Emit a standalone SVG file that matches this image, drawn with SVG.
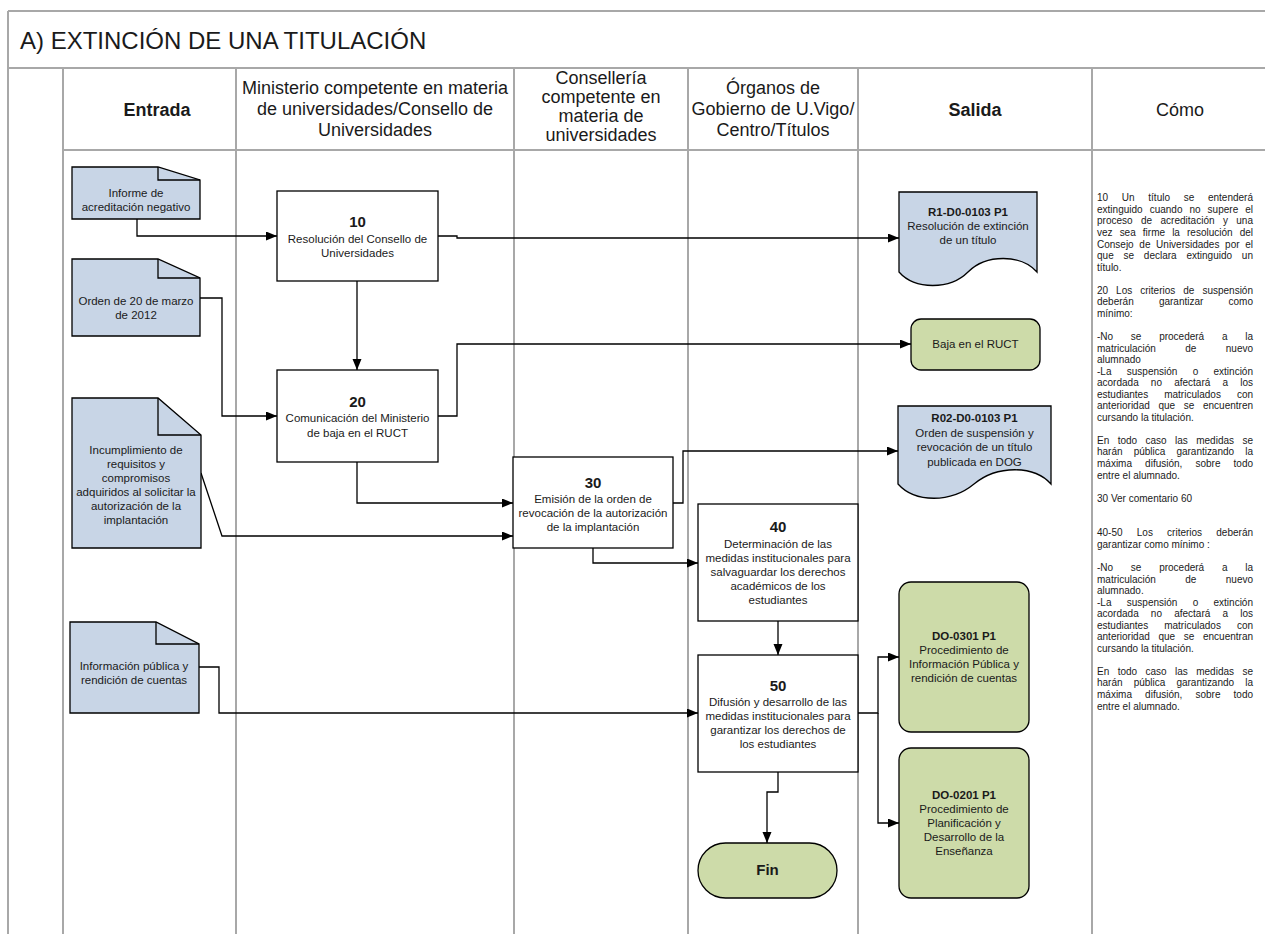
<svg xmlns="http://www.w3.org/2000/svg" width="1265" height="934" viewBox="0 0 1265 934">
<defs>
<style>
.lane{stroke:#a8a8a8;stroke-width:2;fill:none}
.box{fill:#fff;stroke:#000;stroke-width:1.3}
.doc{fill:#c8d5e6;stroke:#000;stroke-width:1.3}
.fold{fill:none;stroke:#000;stroke-width:1.3}
.grn{fill:#cddba9;stroke:#000;stroke-width:1.3}
text{font-family:"Liberation Sans",Arial,sans-serif;fill:#1a1a1a}
.t{font-size:11.5px;text-anchor:middle}
.b{font-weight:bold}
.num{font-size:15px;font-weight:bold;text-anchor:middle}
.hdr{font-size:18px;text-anchor:middle}
.como{font-size:10px}
.conn path{stroke:#000;stroke-width:1.3;fill:none}
.conn .a{marker-end:url(#ah)}
</style>
<marker id="ah" markerUnits="userSpaceOnUse" markerWidth="12" markerHeight="10" refX="11" refY="4.5" orient="auto">
<path d="M0,0 L11,4.5 L0,9 z" fill="#000"/>
</marker>
</defs>
<rect x="0" y="0" width="1265" height="934" fill="#fff"/>

<g id="lanes">
<path class="lane" d="M8,11 H1265 M8,68 H1265 M63,150 H1265 M8,11 V934 M63,68 V934 M236,68 V934 M514,68 V934 M688,68 V934 M858,68 V934 M1092,68 V934"/>
</g>

<g id="title">
<text x="20" y="49" style="font-size:24px">A) EXTINCIÓN DE UNA TITULACIÓN</text>
</g>

<g id="header">
<text class="hdr b" x="157" y="116">Entrada</text>
<text class="hdr" x="375" y="94">Ministerio competente en materia</text>
<text class="hdr" x="375" y="115">de universidades/Consello de</text>
<text class="hdr" x="375" y="136">Universidades</text>
<text class="hdr" x="601" y="84">Consellería</text>
<text class="hdr" x="601" y="103">competente en</text>
<text class="hdr" x="601" y="122">materia de</text>
<text class="hdr" x="601" y="141">universidades</text>
<text class="hdr" x="773" y="94">Órganos de</text>
<text class="hdr" x="773" y="115">Gobierno de U.Vigo/</text>
<text class="hdr" x="773" y="136">Centro/Títulos</text>
<text class="hdr b" x="975" y="116">Salida</text>
<text class="hdr" x="1180" y="116">Cómo</text>
</g>

<g class="conn" id="connectors">
<path class="a" d="M137,219 V236 H277"/>
<path class="a" d="M438,236 H457 V238 H899"/>
<path class="a" d="M357,281 V370"/>
<path class="a" d="M200,298 H222 V416 H277"/>
<path class="a" d="M438,416 H457 V344 H911"/>
<path class="a" d="M357,462 V503 H513"/>
<path class="a" d="M201,473 L222,536 H513"/>
<path class="a" d="M673,503 H683 V451 H898"/>
<path class="a" d="M593,548 V563 H698"/>
<path class="a" d="M778,621 V655"/>
<path class="a" d="M199,667 H219 V713 H698"/>
<path class="a" d="M858,713 H878 V657 H899"/>
<path class="a" d="M878,713 V823 H899"/>
<path class="a" d="M778,772 V792 H767 V843"/>
</g>

<g id="in1">
<path class="doc" d="M72,167 H158 L200,180 V219 H72 Z"/>
<path class="fold" d="M158,167 V180 H200"/>
<text class="t" x="136" y="197">Informe de</text>
<text class="t" x="136" y="211">acreditación negativo</text>
</g>
<g id="in2">
<path class="doc" d="M72,259 H158 L200,278 V336 H72 Z"/>
<path class="fold" d="M158,259 V278 H200"/>
<text class="t" x="136" y="305">Orden de 20 de marzo</text>
<text class="t" x="136" y="319">de 2012</text>
</g>
<g id="in3">
<path class="doc" d="M72,398 H158 L201,435 V548 H72 Z"/>
<path class="fold" d="M158,398 V435 H201"/>
<text class="t" x="136" y="454">Incumplimiento de</text>
<text class="t" x="136" y="468">requisitos y</text>
<text class="t" x="136" y="482">compromisos</text>
<text class="t" x="136" y="496">adquiridos al solicitar la</text>
<text class="t" x="136" y="510">autorización de la</text>
<text class="t" x="136" y="524">implantación</text>
</g>
<g id="in4">
<path class="doc" d="M70,622 H156 L199,644 V713 H70 Z"/>
<path class="fold" d="M156,622 V644 H199"/>
<text class="t" x="134" y="670">Información pública y</text>
<text class="t" x="134" y="684">rendición de cuentas</text>
</g>

<g id="n10">
<rect class="box" x="277" y="191" width="161" height="90"/>
<text class="num" x="357.5" y="227">10</text>
<text class="t" x="357.5" y="243">Resolución  del Consello de</text>
<text class="t" x="357.5" y="257">Universidades</text>
</g>
<g id="n20">
<rect class="box" x="277" y="370" width="161" height="92"/>
<text class="num" x="357.5" y="407">20</text>
<text class="t" x="357.5" y="422">Comunicación del Ministerio</text>
<text class="t" x="357.5" y="437">de baja en el RUCT</text>
</g>
<g id="n30">
<rect class="box" x="513" y="457" width="160" height="91"/>
<text class="num" x="593" y="488">30</text>
<text class="t" x="593" y="503">Emisión de la orden de</text>
<text class="t" x="593" y="517">revocación de la autorización</text>
<text class="t" x="593" y="531">de la implantación</text>
</g>
<g id="n40">
<rect class="box" x="698" y="504" width="160" height="117"/>
<text class="num" x="778" y="532">40</text>
<text class="t" x="778" y="548">Determinación de las</text>
<text class="t" x="778" y="562">medidas institucionales para</text>
<text class="t" x="778" y="576">salvaguardar los derechos</text>
<text class="t" x="778" y="590">académicos de los</text>
<text class="t" x="778" y="604">estudiantes</text>
</g>
<g id="n50">
<rect class="box" x="698" y="655" width="160" height="117"/>
<text class="num" x="778" y="691">50</text>
<text class="t" x="778" y="706">Difusión y desarrollo de las</text>
<text class="t" x="778" y="720">medidas institucionales para</text>
<text class="t" x="778" y="734">garantizar los derechos de</text>
<text class="t" x="778" y="748">los estudiantes</text>
</g>
<g id="fin">
<rect class="grn" x="698" y="843" width="139" height="55" rx="27.5"/>
<text class="num" x="767.5" y="875">Fin</text>
</g>

<g id="out1">
<path class="doc" d="M899,192 H1037 V272 C1021,254 986,254 968,272 C950,290 915,290 899,272 Z"/>
<text class="t b" x="968" y="216">R1-D0-0103 P1</text>
<text class="t" x="968" y="230">Resolución de extinción</text>
<text class="t" x="968" y="244">de un título</text>
</g>
<g id="out2">
<rect class="grn" x="911" y="319" width="129" height="51" rx="10"/>
<text class="t" x="975.5" y="348">Baja en el RUCT</text>
</g>
<g id="out3">
<path class="doc" d="M898,406 H1051 V484 C1034,465 997,465 974,484 C951,503 915,503 898,484 Z"/>
<text class="t b" x="974.5" y="422">R02-D0-0103 P1</text>
<text class="t" x="974.5" y="437">Orden de suspensión y</text>
<text class="t" x="974.5" y="451">revocación de un título</text>
<text class="t" x="974.5" y="466">publicada en DOG</text>
</g>
<g id="out4">
<rect class="grn" x="899" y="582" width="130" height="150" rx="12"/>
<text class="t b" x="964" y="640">DO-0301 P1</text>
<text class="t" x="964" y="654">Procedimiento de</text>
<text class="t" x="964" y="668">Información Pública y</text>
<text class="t" x="964" y="682">rendición de cuentas</text>
</g>
<g id="out5">
<rect class="grn" x="899" y="748" width="130" height="150" rx="12"/>
<text class="t b" x="964" y="799">DO-0201 P1</text>
<text class="t" x="964" y="813">Procedimiento de</text>
<text class="t" x="964" y="827">Planificación y</text>
<text class="t" x="964" y="841">Desarrollo de la</text>
<text class="t" x="964" y="855">Enseñanza</text>
</g>

<g id="como" class="como">
<text x="1097" y="201.3" textLength="156" lengthAdjust="spacing" style="word-spacing:10.9px">10 Un título se entenderá</text>
<text x="1097" y="212.9" textLength="156" lengthAdjust="spacing" style="word-spacing:4.2px">extinguido cuando no supere el</text>
<text x="1097" y="224.4" textLength="156" lengthAdjust="spacing" style="word-spacing:5.6px">proceso de acreditación y una</text>
<text x="1097" y="236" textLength="156" lengthAdjust="spacing" style="word-spacing:4.3px">vez sea firme la resolución del</text>
<text x="1097" y="247.5" textLength="156" lengthAdjust="spacing" style="word-spacing:2.9px">Consejo de Universidades por el</text>
<text x="1097" y="259.1" textLength="156" lengthAdjust="spacing" style="word-spacing:7px">que se declara extinguido un</text>
<text x="1097" y="270.6">título.</text>
<text x="1097" y="293.7" textLength="156" lengthAdjust="spacing" style="word-spacing:5.2px">20 Los criterios de suspensión</text>
<text x="1097" y="305.3" textLength="156" lengthAdjust="spacing" style="word-spacing:22.4px">deberán garantizar como</text>
<text x="1097" y="316.8">mínimo:</text>
<text x="1097" y="339.9" textLength="156" lengthAdjust="spacing" style="word-spacing:15px">-No se procederá a la</text>
<text x="1097" y="351.5" textLength="156" lengthAdjust="spacing" style="word-spacing:26.6px">matriculación de nuevo</text>
<text x="1097" y="363">alumnado</text>
<text x="1097" y="374.6" textLength="156" lengthAdjust="spacing" style="word-spacing:12.5px">-La suspensión o extinción</text>
<text x="1097" y="386.1" textLength="156" lengthAdjust="spacing" style="word-spacing:9.4px">acordada no afectará a los</text>
<text x="1097" y="397.7" textLength="156" lengthAdjust="spacing" style="word-spacing:13.2px">estudiantes matriculados con</text>
<text x="1097" y="409.2" textLength="156" lengthAdjust="spacing" style="word-spacing:5.9px">anterioridad que se encuentren</text>
<text x="1097" y="420.8">cursando la titulación.</text>
<text x="1097" y="443.9" textLength="156" lengthAdjust="spacing" style="word-spacing:5.6px">En todo caso las medidas se</text>
<text x="1097" y="455.4" textLength="156" lengthAdjust="spacing" style="word-spacing:8.5px">harán pública garantizando la</text>
<text x="1097" y="467" textLength="156" lengthAdjust="spacing" style="word-spacing:10.3px">máxima difusión, sobre todo</text>
<text x="1097" y="478.5">entre el alumnado.</text>
<text x="1097" y="501.6">30 Ver comentario 60</text>
<text x="1097" y="536.3" textLength="156" lengthAdjust="spacing" style="word-spacing:11.4px">40-50 Los criterios deberán</text>
<text x="1097" y="547.8">garantizar como mínimo :</text>
<text x="1097" y="570.9" textLength="156" lengthAdjust="spacing" style="word-spacing:15px">-No se procederá a la</text>
<text x="1097" y="582.5" textLength="156" lengthAdjust="spacing" style="word-spacing:26.6px">matriculación de nuevo</text>
<text x="1097" y="594">alumnado.</text>
<text x="1097" y="605.6" textLength="156" lengthAdjust="spacing" style="word-spacing:12.5px">-La suspensión o extinción</text>
<text x="1097" y="617.1" textLength="156" lengthAdjust="spacing" style="word-spacing:9.4px">acordada no afectará a los</text>
<text x="1097" y="628.7" textLength="156" lengthAdjust="spacing" style="word-spacing:13.2px">estudiantes matriculados con</text>
<text x="1097" y="640.2" textLength="156" lengthAdjust="spacing" style="word-spacing:5.9px">anterioridad que se encuentran</text>
<text x="1097" y="651.8">cursando la titulación.</text>
<text x="1097" y="674.9" textLength="156" lengthAdjust="spacing" style="word-spacing:5.6px">En todo caso las medidas se</text>
<text x="1097" y="686.4" textLength="156" lengthAdjust="spacing" style="word-spacing:8.5px">harán pública garantizando la</text>
<text x="1097" y="698" textLength="156" lengthAdjust="spacing" style="word-spacing:10.3px">máxima difusión, sobre todo</text>
<text x="1097" y="709.5">entre el alumnado.</text>
</g>
</svg>
